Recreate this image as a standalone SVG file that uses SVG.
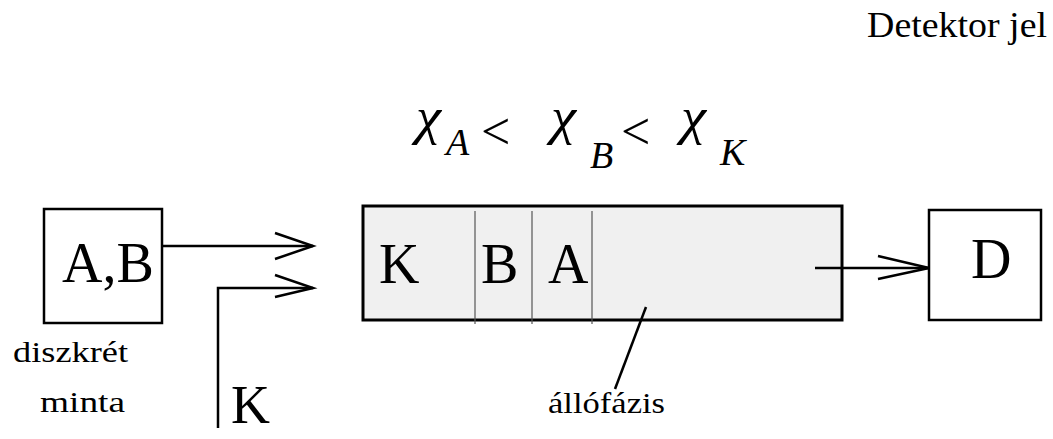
<svg xmlns="http://www.w3.org/2000/svg" width="1053" height="439" viewBox="0 0 1053 439">
<style>
text{font-family:'Liberation Serif',Tinos,'Times New Roman',Times,serif;fill:#000}
.big{font-size:56px}
.sm{font-size:29px}
.it{font-style:italic}
.chi{font-style:italic;font-size:52px}
.box{fill:#fff;stroke:#000;stroke-width:2.5}
.ln{fill:none;stroke:#000;stroke-width:2.5}
.div{stroke:#555;stroke-width:1.2}
</style>
<rect x="0" y="0" width="1053" height="439" fill="#fff"/>
<g id="title">
<text x="867" y="37" font-size="36" textLength="180" lengthAdjust="spacingAndGlyphs">Detektor jel</text>
</g>
<g id="formula">
<text class="chi" x="416" y="134" textLength="25" lengthAdjust="spacingAndGlyphs">χ</text>
<text class="it" x="446" y="155" font-size="38">A</text>
<text x="481" y="149" font-size="52">&lt;</text>
<text class="chi" x="551" y="134" textLength="25" lengthAdjust="spacingAndGlyphs">χ</text>
<text class="it" x="590" y="168" font-size="38">B</text>
<text x="621" y="149" font-size="52">&lt;</text>
<text class="chi" x="681" y="134" textLength="25" lengthAdjust="spacingAndGlyphs">χ</text>
<text class="it" x="720" y="165" font-size="38">K</text>
</g>
<g id="sample">
<rect class="box" x="44" y="209" width="118" height="114"/>
<text class="big" x="62" y="282">A,B</text>
<text class="sm" x="13" y="362" textLength="115" lengthAdjust="spacingAndGlyphs">diszkrét</text>
<text class="sm" x="40" y="412" textLength="85" lengthAdjust="spacingAndGlyphs">minta</text>
</g>
<g id="carrier">
<text x="231" y="423" font-size="54">K</text>
</g>
<g id="column">
<rect x="363" y="206" width="479" height="114" fill="#f0f0f0" stroke="#000" stroke-width="3"/>
<line class="div" x1="475" y1="211" x2="475" y2="324"/>
<line class="div" x1="532" y1="211" x2="532" y2="324"/>
<line class="div" x1="592" y1="211" x2="592" y2="324"/>
<text class="big" x="379" y="283">K</text>
<text class="big" x="481" y="283">B</text>
<text class="big" x="548" y="283">A</text>
<text class="sm" x="548" y="413" textLength="117" lengthAdjust="spacingAndGlyphs">állófázis</text>
</g>
<g id="detector">
<rect class="box" x="929" y="210" width="112" height="110"/>
<text x="971" y="278" font-size="56">D</text>
</g>
<g id="connectors">
<polyline class="ln" points="162,246 313,246"/>
<polyline class="ln" points="275,233 313,246 275,259"/>
<polyline class="ln" points="218,428 218,288 313,288"/>
<polyline class="ln" points="275,275 313,288 275,297"/>
<polyline class="ln" points="815,268 929,268"/>
<polyline class="ln" points="878,256 929,268 878,279"/>
<line class="ln" x1="646" y1="307" x2="615" y2="389"/>
</g>
</svg>
